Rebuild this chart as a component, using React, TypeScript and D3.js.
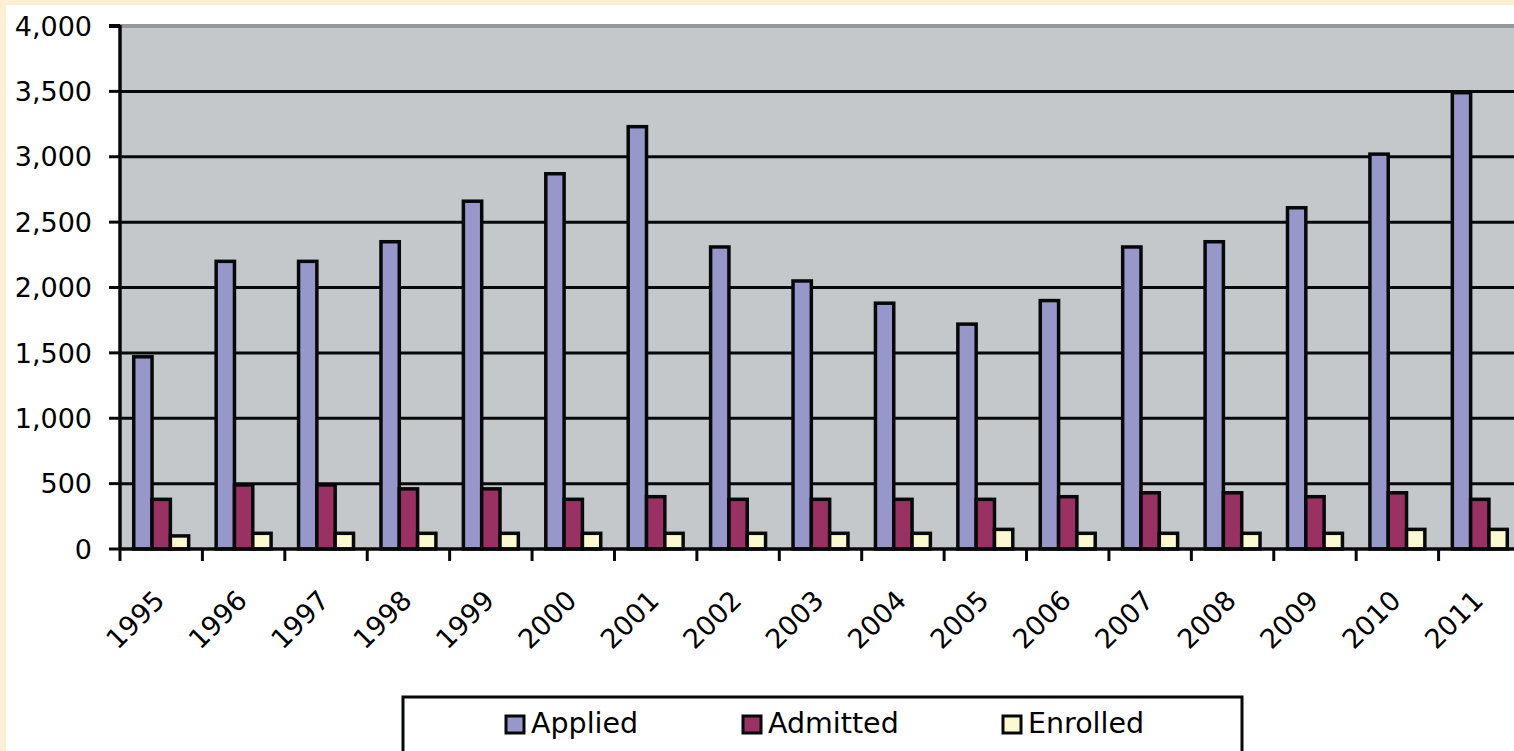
import React from 'react';
import * as d3 from 'd3';

const years = ['1995','1996','1997','1998','1999','2000','2001','2002','2003','2004','2005','2006','2007','2008','2009','2010','2011'];
const applied = [1470,2200,2200,2350,2660,2870,3230,2310,2050,1880,1720,1900,2310,2350,2610,3020,3490];
const admitted = [380,490,490,460,460,380,400,380,380,380,380,400,430,430,400,430,380];
const enrolled = [100,120,120,120,120,120,120,120,120,120,150,120,120,120,120,150,150];
const seriesNames = ['Applied','Admitted','Enrolled'];
const seriesColors = ['#9797CA','#993163','#FBF9D0'];
const yTicks = [0,500,1000,1500,2000,2500,3000,3500,4000];

const W = 1514, H = 751;
const left = 120, right = 1521, top = 26, bottom = 549;
const FONT = '"DejaVu Sans", Verdana, sans-serif';

export default function App() {
  const y = d3.scaleLinear().domain([0, 4000]).range([bottom, top]);
  const x = d3.scaleBand<string>().domain(years).range([left, right]).paddingInner(0).paddingOuter(0);
  const bw = x.bandwidth();
  const xs = d3.scaleBand<string>().domain(seriesNames).range([bw / 6, bw * 5 / 6]);
  const fmt = d3.format(',');
  const data = [applied, admitted, enrolled];

  const legendItems = [
    { name: seriesNames[0], color: seriesColors[0], x: 506 },
    { name: seriesNames[1], color: seriesColors[1], x: 743 },
    { name: seriesNames[2], color: seriesColors[2], x: 1003 },
  ];

  return (
    <svg width={W} height={H} style={{ position: 'absolute', left: 0, top: 0, display: 'block' }}>
      <rect x={0} y={0} width={W} height={H} fill="#FCEFD4" />
      <rect x={6} y={5} width={W - 6} height={H - 5} fill="#FFFFFF" />
      {/* plot background */}
      <rect x={left} y={top} width={W - left} height={bottom - top} fill="#C5C8CB" />
      {/* gridlines */}
      {yTicks.filter(t => t > 0).map(t => (
        <line key={'g' + t} x1={left} x2={W} y1={y(t)} y2={y(t)}
          stroke={t === 4000 ? '#97979B' : '#07080A'} strokeWidth={t === 4000 ? 4 : 3} />
      ))}
      {/* bars */}
      {years.map((yr, i) => (
        <g key={yr}>
          {seriesNames.map((s, j) => {
            const v = data[j][i];
            return (
              <rect key={s}
                x={(x(yr) as number) + (xs(s) as number)}
                y={y(v)}
                width={xs.bandwidth()}
                height={y(0) - y(v)}
                fill={seriesColors[j]}
                stroke="#07080A" strokeWidth={3.5} />
            );
          })}
        </g>
      ))}
      {/* axes */}
      <line x1={left} x2={left} y1={top - 1} y2={bottom + 1} stroke="#07080A" strokeWidth={3.5} />
      <line x1={left} x2={W} y1={bottom} y2={bottom} stroke="#07080A" strokeWidth={3.5} />
      {yTicks.map(t => (
        <g key={'yt' + t}>
          <line x1={109} x2={left} y1={y(t)} y2={y(t)} stroke="#07080A" strokeWidth={t === 4000 ? 4 : 3} />
          <text x={92} y={y(t)} dy="0.36em" textAnchor="end" fontFamily={FONT} fontSize={27} fill="#000">
            {fmt(t)}
          </text>
        </g>
      ))}
      {years.map(yr => (
        <line key={'xt' + yr} x1={x(yr) as number} x2={x(yr) as number} y1={bottom} y2={bottom + 12}
          stroke="#07080A" strokeWidth={3} />
      ))}
      {years.map(yr => {
        const cx = (x(yr) as number) + bw / 2 + 5;
        const cy = 602;
        return (
          <text key={'xl' + yr} x={cx} y={cy} textAnchor="end" transform={`rotate(-45 ${cx} ${cy})`}
            fontFamily={FONT} fontSize={27} fill="#000">{yr}</text>
        );
      })}
      {/* legend */}
      <rect x={403} y={697} width={839} height={80} fill="#FFFFFF" stroke="#07080A" strokeWidth={3} />
      {legendItems.map(it => (
        <g key={it.name}>
          <rect x={it.x} y={716} width={18} height={17} fill={it.color} stroke="#07080A" strokeWidth={3} />
          <text x={it.x + 25} y={733} fontFamily={FONT} fontSize={28.5} fill="#000">{it.name}</text>
        </g>
      ))}
    </svg>
  );
}
